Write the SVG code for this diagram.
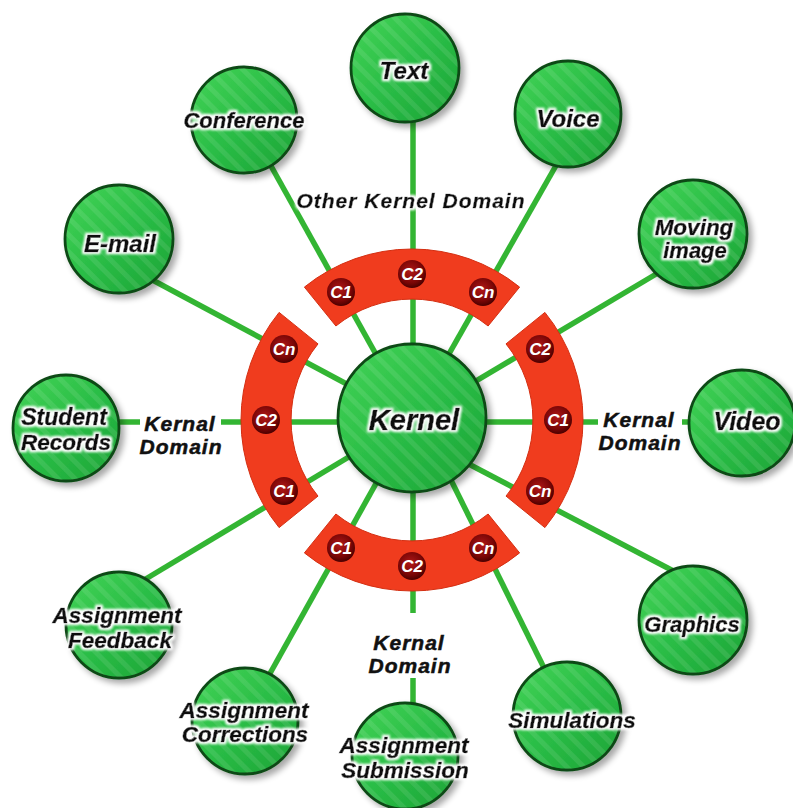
<svg xmlns="http://www.w3.org/2000/svg" xmlns:xlink="http://www.w3.org/1999/xlink" width="793" height="808" viewBox="0 0 793 808">
<style>
.node{fill:url(#gg);stroke:#0c4a14;stroke-width:2.8;filter:url(#sh)}
.tex{fill:url(#str);stroke:none}
.lbl{font-family:"Liberation Sans",Arial,sans-serif;font-weight:bold;font-style:italic;fill:#0a0a0a;stroke:#0a0a0a;stroke-width:0.6;text-anchor:middle;filter:url(#glow)}
.dom{font-family:"Liberation Sans",Arial,sans-serif;font-weight:bold;font-style:italic;fill:#111;stroke:#111;stroke-width:0.5;text-anchor:middle;font-size:21px;letter-spacing:1px}
.ln{stroke:#33b533;stroke-width:5.5;fill:none}
.arc{fill:#f03c1e;stroke:#d42f12;stroke-width:1}
.bd{fill:url(#bg)}
.bt{font-family:"Liberation Sans",Arial,sans-serif;font-weight:bold;font-style:italic;fill:#fff;text-anchor:middle;font-size:17px}
</style>
<defs>
<linearGradient id="gg" x1="0" y1="0" x2="1" y2="1">
<stop offset="0" stop-color="#44d458"/>
<stop offset="0.5" stop-color="#2abd46"/>
<stop offset="1" stop-color="#1ba336"/>
</linearGradient>
<radialGradient id="bg" cx="0.45" cy="0.4" r="0.6">
<stop offset="0" stop-color="#b01818"/>
<stop offset="0.7" stop-color="#7a0606"/>
<stop offset="1" stop-color="#4a0000"/>
</radialGradient>
<pattern id="str" width="12" height="12" patternUnits="userSpaceOnUse" patternTransform="rotate(-45)">
<rect width="5" height="12" fill="#ffffff" opacity="0.09"/>
</pattern>
<filter id="sh" x="-20%" y="-20%" width="150%" height="150%">
<feGaussianBlur in="SourceAlpha" stdDeviation="3"/>
<feOffset dx="4" dy="4"/>
<feComponentTransfer><feFuncA type="linear" slope="0.35"/></feComponentTransfer>
<feMerge><feMergeNode/><feMergeNode in="SourceGraphic"/></feMerge>
</filter>
<filter id="glow" x="-20%" y="-50%" width="140%" height="200%">
<feMorphology in="SourceAlpha" operator="dilate" radius="1.6" result="d"/>
<feGaussianBlur in="d" stdDeviation="1.1" result="b"/>
<feFlood flood-color="#ffffff"/>
<feComposite in2="b" operator="in" result="w"/>
<feMerge><feMergeNode in="w"/><feMergeNode in="SourceGraphic"/></feMerge>
</filter>
<path id="seg" class="arc" d="M304.4,287.1 A171,171 0 0 1 519.6,287.1 L488.1,326.0 A121,121 0 0 0 335.9,326.0 Z"/>
</defs>
<rect width="793" height="808" fill="#ffffff"/>

<g id="connectors">
<line class="ln" x1="413" y1="419" x2="413" y2="110"/>
<line class="ln" x1="412" y1="419" x2="266" y2="157"/>
<line class="ln" x1="412" y1="419" x2="562" y2="155"/>
<line class="ln" x1="412" y1="419" x2="145" y2="276"/>
<line class="ln" x1="412" y1="419" x2="668" y2="267"/>
<line class="ln" x1="412" y1="422" x2="100" y2="422"/>
<line class="ln" x1="412" y1="422" x2="705" y2="422"/>
<line class="ln" x1="440" y1="449" x2="683" y2="576"/>
<line class="ln" x1="446" y1="470" x2="550" y2="680"/>
<line class="ln" x1="413" y1="419" x2="413" y2="720"/>
<line class="ln" x1="412" y1="419" x2="263" y2="686"/>
<line class="ln" x1="412" y1="419" x2="134" y2="586"/>
</g>

<g id="domain-labels">
<text class="dom" x="411" y="208" filter="url(#glow)">Other Kernel Domain</text>
<rect x="140" y="411" width="81" height="50" fill="#fff"/>
<text class="dom" x="180" y="431">Kernal</text>
<text class="dom" x="181" y="454">Domain</text>
<rect x="598" y="406" width="84" height="50" fill="#fff"/>
<text class="dom" x="639" y="427">Kernal</text>
<text class="dom" x="640" y="450">Domain</text>
<rect x="370" y="613" width="82" height="65" fill="#fff"/>
<text class="dom" x="409" y="650">Kernal</text>
<text class="dom" x="410" y="673">Domain</text>
</g>

<g id="domain-top">
<use xlink:href="#seg"/>
<circle class="bd" cx="341" cy="292" r="14"/><text class="bt" x="341" y="298">C1</text>
<circle class="bd" cx="412" cy="274" r="14"/><text class="bt" x="412" y="280">C2</text>
<circle class="bd" cx="483" cy="292" r="14"/><text class="bt" x="483" y="298">Cn</text>
</g>
<g id="domain-left">
<use xlink:href="#seg" transform="rotate(-90 412 420)"/>
<circle class="bd" cx="284" cy="349" r="14"/><text class="bt" x="284" y="355">Cn</text>
<circle class="bd" cx="266" cy="420" r="14"/><text class="bt" x="266" y="426">C2</text>
<circle class="bd" cx="284" cy="491" r="14"/><text class="bt" x="284" y="497">C1</text>
</g>
<g id="domain-right">
<use xlink:href="#seg" transform="rotate(90 412 420)"/>
<circle class="bd" cx="540" cy="349" r="14"/><text class="bt" x="540" y="355">C2</text>
<circle class="bd" cx="558" cy="420" r="14"/><text class="bt" x="558" y="426">C1</text>
<circle class="bd" cx="540" cy="491" r="14"/><text class="bt" x="540" y="497">Cn</text>
</g>
<g id="domain-bottom">
<use xlink:href="#seg" transform="rotate(180 412 420)"/>
<circle class="bd" cx="341" cy="548" r="14"/><text class="bt" x="341" y="554">C1</text>
<circle class="bd" cx="412" cy="566" r="14"/><text class="bt" x="412" y="572">C2</text>
<circle class="bd" cx="483" cy="548" r="14"/><text class="bt" x="483" y="554">Cn</text>
</g>

<g id="kernel">
<circle class="node" cx="412" cy="418" r="74"/><circle class="tex" cx="412" cy="418" r="73"/>
<text class="lbl" x="414" y="430" font-size="29">Kernel</text>
</g>
<g id="text">
<circle class="node" cx="405" cy="68" r="54"/><circle class="tex" cx="405" cy="68" r="53"/>
<text class="lbl" x="404" y="79" font-size="24">Text</text>
</g>
<g id="conference">
<circle class="node" cx="244" cy="120" r="53"/><circle class="tex" cx="244" cy="120" r="52"/>
<text class="lbl" x="244" y="128" font-size="22">Conference</text>
</g>
<g id="voice">
<circle class="node" cx="568" cy="114" r="53"/><circle class="tex" cx="568" cy="114" r="52"/>
<text class="lbl" x="568" y="127" font-size="24">Voice</text>
</g>
<g id="email">
<circle class="node" cx="119" cy="239" r="54"/><circle class="tex" cx="119" cy="239" r="53"/>
<text class="lbl" x="120" y="252" font-size="24">E-mail</text>
</g>
<g id="moving-image">
<circle class="node" cx="693" cy="234" r="54"/><circle class="tex" cx="693" cy="234" r="53"/>
<text class="lbl" x="694" y="235" font-size="22.5">Moving</text>
<text class="lbl" x="695" y="258" font-size="22">image</text>
</g>
<g id="student-records">
<circle class="node" cx="66" cy="428" r="53"/><circle class="tex" cx="66" cy="428" r="52"/>
<text class="lbl" x="64" y="425" font-size="23">Student</text>
<text class="lbl" x="66" y="450" font-size="22.5">Records</text>
</g>
<g id="video">
<circle class="node" cx="742" cy="423" r="53"/><circle class="tex" cx="742" cy="423" r="52"/>
<text class="lbl" x="747" y="430" font-size="25">Video</text>
</g>
<g id="graphics">
<circle class="node" cx="693" cy="620" r="54"/><circle class="tex" cx="693" cy="620" r="53"/>
<text class="lbl" x="692" y="632" font-size="22">Graphics</text>
</g>
<g id="simulations">
<circle class="node" cx="567" cy="716" r="54"/><circle class="tex" cx="567" cy="716" r="53"/>
<text class="lbl" x="572" y="728" font-size="22.5">Simulations</text>
</g>
<g id="assignment-submission">
<circle class="node" cx="405" cy="756" r="53"/><circle class="tex" cx="405" cy="756" r="52"/>
<text class="lbl" x="404" y="753" font-size="22.5">Assignment</text>
<text class="lbl" x="405" y="778" font-size="22.5">Submission</text>
</g>
<g id="assignment-corrections">
<circle class="node" cx="245" cy="721" r="53"/><circle class="tex" cx="245" cy="721" r="52"/>
<text class="lbl" x="244" y="718" font-size="22.5">Assignment</text>
<text class="lbl" x="245" y="742" font-size="22.5">Corrections</text>
</g>
<g id="assignment-feedback">
<circle class="node" cx="119" cy="625" r="53"/><circle class="tex" cx="119" cy="625" r="52"/>
<text class="lbl" x="117" y="623" font-size="22.5">Assignment</text>
<text class="lbl" x="120" y="648" font-size="22.5">Feedback</text>
</g>
</svg>
